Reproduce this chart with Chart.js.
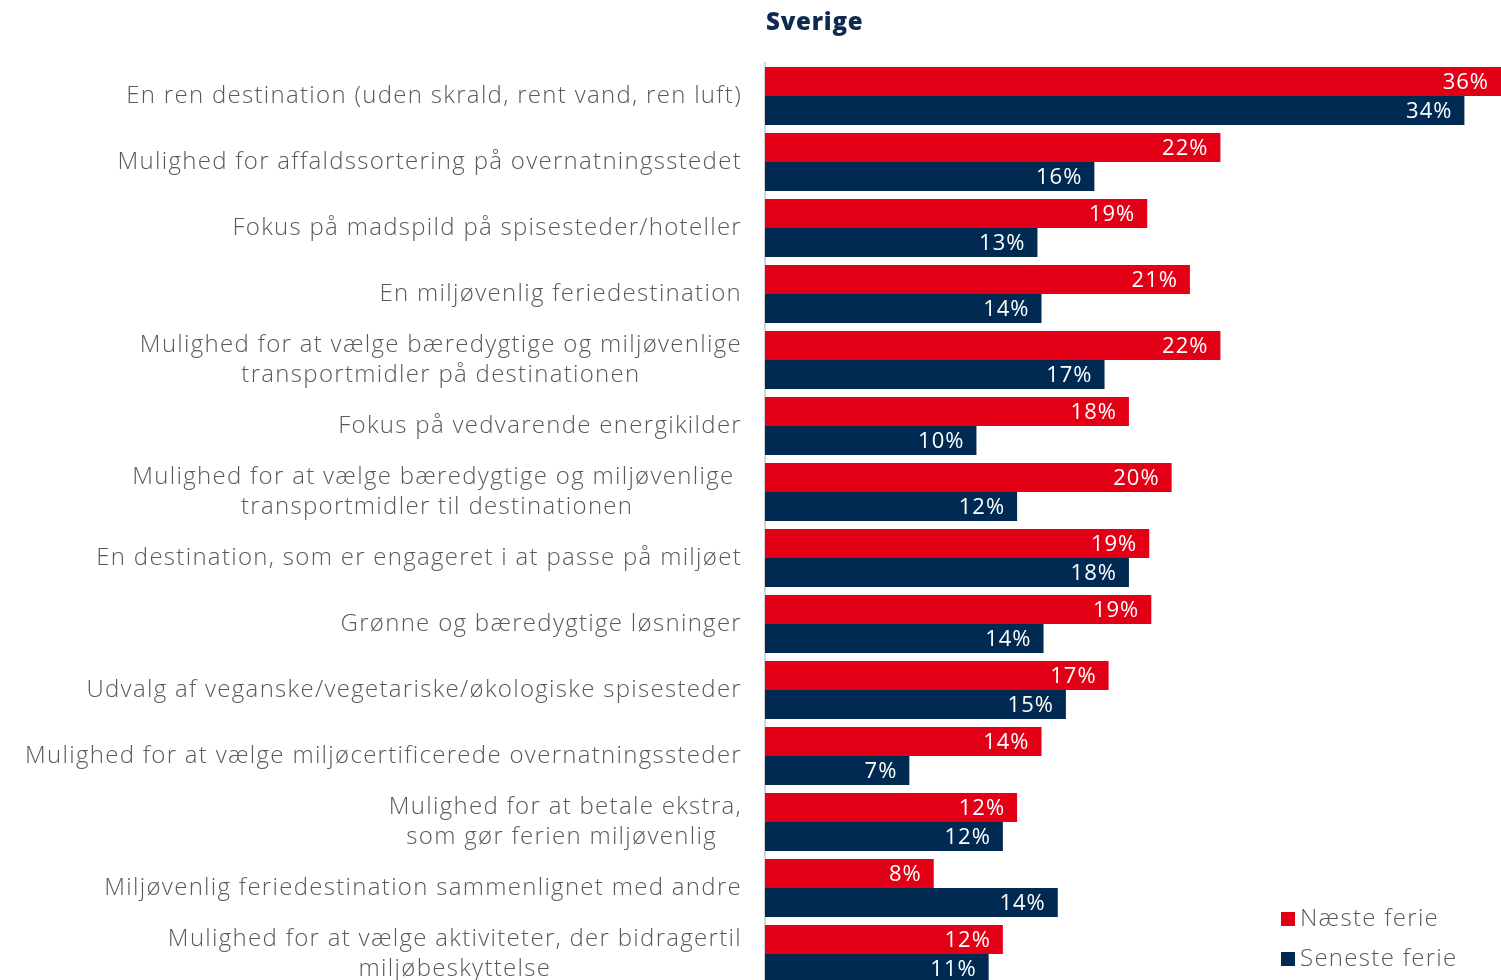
<!DOCTYPE html>
<html>
<head>
<meta charset="utf-8">
<script src="https://cdn.jsdelivr.net/npm/chart.js@4.4.0/dist/chart.umd.min.js"></script>
<style>
html,body{margin:0;padding:0;background:#fff;overflow:hidden;}
#wrap{position:relative;width:1501px;height:990px;}
</style>
</head>
<body>
<div id="wrap"><canvas id="chart"></canvas></div>
<script>
// categories (multi-line ones as arrays)
const kategorier = [
"En ren destination (uden skrald, rent vand, ren luft)",
"Mulighed for affaldssortering på overnatningsstedet",
"Fokus på madspild på spisesteder/hoteller",
"En miljøvenlig feriedestination",
["Mulighed for at vælge bæredygtige og miljøvenlige","transportmidler på destinationen"],
"Fokus på vedvarende energikilder",
["Mulighed for at vælge bæredygtige og miljøvenlige ","transportmidler til destinationen"],
"En destination, som er engageret i at passe på miljøet",
"Grønne og bæredygtige løsninger",
"Udvalg af veganske/vegetariske/økologiske spisesteder",
"Mulighed for at vælge miljøcertificerede overnatningssteder",
["Mulighed for at betale ekstra,","som gør ferien miljøvenlig "],
"Miljøvenlig feriedestination sammenlignet med andre",
["Mulighed for at vælge aktiviteter, der bidragertil","miljøbeskyttelse"]
];

const naesteFerie  = [36.2, 22.4, 18.8, 20.9, 22.4, 17.9, 20.0, 18.9, 19.0, 16.9, 13.6, 12.4, 8.3, 11.7];
const senesteFerie = [34.4, 16.2, 13.4, 13.6, 16.7, 10.4, 12.4, 17.9, 13.7, 14.8, 7.1, 11.7, 14.4, 11.0];

const serieNavne = ["Næste ferie", "Seneste ferie"];
const titel = "Sverige";

const RED = "#E30016";
const NAVY = "#002A52";
const GREY = "#595959";
const FONT = "'Open Sans', sans-serif";

const tegnPlugin = {
id:"tegn",
afterDraw(chart){
const ctx = chart.ctx;
const area = chart.chartArea;
const y = chart.scales.y;

ctx.save();

/* titel */
ctx.fillStyle = "#0D2A4F";
ctx.font = "800 24px " + FONT;
ctx.letterSpacing = "0.8px";
ctx.textAlign = "left";
ctx.textBaseline = "middle";
ctx.fillText(titel, area.left + 1, 23);

/* kategori labels, centreret i blokken, blokken højrestillet */
ctx.fillStyle = GREY;
ctx.font = "300 24px " + FONT;
ctx.letterSpacing = "1.3px";
ctx.textBaseline = "middle";
const hojre = area.left - 23;
kategorier.forEach((lab,i)=>{
const lines = Array.isArray(lab) ? lab : [lab];
const cy = y.getPixelForValue(i);
const widths = lines.map(l=>ctx.measureText(l).width);
const maxW = Math.max(...widths);
ctx.textAlign = "left";
lines.forEach((l,k)=>{
const ly = cy + (k - (lines.length-1)/2) * 30;
const x0 = hojre - maxW + (maxW - widths[k])/2;
ctx.fillText(l, x0, ly);
});
});

/* værdier i bjælkerne */
ctx.fillStyle = "#fff";
ctx.font = "400 22px " + FONT;
ctx.letterSpacing = "1px";
ctx.textAlign = "right";
chart.data.datasets.forEach((ds,di)=>{
chart.getDatasetMeta(di).data.forEach((bar,i)=>{
ctx.fillText(Math.round(ds.data[i]) + "%", bar.x - 12, bar.y + 1);
});
});

/* legende */
ctx.font = "300 24px " + FONT;
ctx.letterSpacing = "1.3px";
ctx.textAlign = "left";
chart.data.datasets.forEach((ds,di)=>{
const ly = 919 + di*40;
ctx.fillStyle = ds.backgroundColor;
ctx.fillRect(1281, ly - 7, 14, 14);
ctx.fillStyle = GREY;
ctx.fillText(ds.label, 1300, ly);
});

ctx.restore();
}
};

new Chart(document.getElementById("chart"),{
type:"bar",
data:{
labels:kategorier,
datasets:[
{label:serieNavne[0], data:naesteFerie, backgroundColor:RED},
{label:serieNavne[1], data:senesteFerie, backgroundColor:NAVY}
]
},
options:{
indexAxis:"y",
responsive:true,
maintainAspectRatio:false,
animation:false,
layout:{padding:{top:63,bottom:3,left:0,right:0}},
categoryPercentage:0.88,
barPercentage:1,
plugins:{
legend:{display:false},
tooltip:{enabled:false},
title:{display:false}
},
scales:{
x:{
display:false,
min:0,
max:36.2
},
y:{
grid:{display:false},
border:{display:true,color:"#d4d4d4",width:2},
ticks:{display:false},
afterFit(scale){ scale.width = 765; }
}
}
},
plugins:[tegnPlugin]
});
</script>
</body>
</html>
